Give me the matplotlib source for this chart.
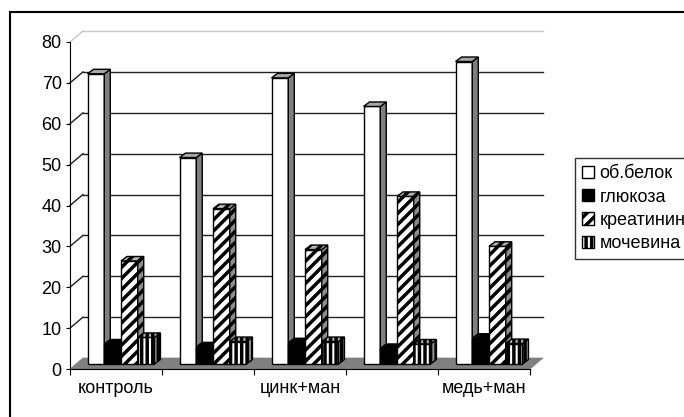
import numpy as np
import matplotlib
matplotlib.use('Agg')
import matplotlib.pyplot as plt
from matplotlib.patches import Polygon, Rectangle, Patch

plt.rcParams['font.family'] = ['Liberation Sans', 'DejaVu Sans']
plt.rcParams['hatch.linewidth'] = 2.5

groups = ['контроль', '', 'цинк+ман', '', 'медь+ман']
series = ['об.белок', 'глюкоза', 'креатинин', 'мочевина']
belok = [71, 50.5, 70, 63, 74]
glukoza = [4.9, 4.2, 5.2, 3.8, 6.3]
kreatinin = [25.2, 38, 28, 41, 28.8]
mochevina = [6.5, 5.5, 5.5, 4.9, 5]
yticks = [0, 10, 20, 30, 40, 50, 60, 70, 80]

values = [belok, glukoza, kreatinin, mochevina]
front = ['white', 'black', 'white', 'white']
side = ['#7f7f7f', 'black', '#8c8c8c', '#8c8c8c']
top = ['#a6a6a6', 'black', '#b0b0b0', '#b0b0b0']
hatches = [None, None, '///', '|||']

W, H = 684, 417
fig = plt.figure(figsize=(W / 100, H / 100), dpi=100)
# axes box in pixels: x 70..530, y 42..369
ax = fig.add_axes([70 / W, 1 - 369 / H, 460 / W, 327 / H])
ax.set_xlim(0, 5)
ax.set_ylim(0, 80)

px_x = 460 / 5
px_y = 327 / 80
wall_dx, wall_dy = 13 / px_x, 11 / px_y
bar_x0, bar_y0 = 5 / px_x, 5 / px_y
bar_dx, bar_dy = 6 / px_x, 4.5 / px_y
bw = 1 / 5.5

# back wall gridlines and left wall diagonals
for t in yticks[1:]:
    c = '#c8c8c8' if t == 80 else '#202020'
    ax.plot([wall_dx, 5 + wall_dx], [t + wall_dy, t + wall_dy], color=c, lw=1, clip_on=False, zorder=1)
    ax.plot([0, wall_dx], [t, t + wall_dy], color=c, lw=1, clip_on=False, zorder=1)

# floor
ax.add_patch(Polygon([(0, 0), (5, 0), (5 + wall_dx, wall_dy), (wall_dx, wall_dy)],
                     facecolor='#808080', edgecolor='#808080', lw=0.5, clip_on=False, zorder=2))

z = 3
for g in range(len(groups)):
    for s in range(len(series)):
        v = values[s][g]
        x0 = g + (1 - 4 * bw) / 2 + bar_x0 + s * bw
        b = bar_y0
        t = b + v
        ax.add_patch(Rectangle((x0, b), bw, v, facecolor=front[s], edgecolor='black',
                               hatch=hatches[s], lw=1, clip_on=False, zorder=z))
        ax.add_patch(Polygon([(x0 + bw, b), (x0 + bw + bar_dx, b + bar_dy),
                              (x0 + bw + bar_dx, t + bar_dy), (x0 + bw, t)],
                             facecolor=side[s], edgecolor='black', hatch=hatches[s],
                             lw=1, clip_on=False, zorder=z))
        ax.add_patch(Polygon([(x0, t), (x0 + bw, t), (x0 + bw + bar_dx, t + bar_dy),
                              (x0 + bar_dx, t + bar_dy)],
                             facecolor=top[s], edgecolor='black', hatch=hatches[s],
                             lw=1, clip_on=False, zorder=z))
        z += 1

for sp in ['top', 'right']:
    ax.spines[sp].set_visible(False)
ax.spines['left'].set_zorder(100)
ax.spines['bottom'].set_zorder(100)
ax.set_facecolor('none')

ax.set_yticks(yticks)
ax.tick_params(axis='y', direction='out', length=3, pad=3, labelsize=13)
ax.set_xticks(range(6))
ax.set_xticklabels([''] * 6)
ax.set_xticks(np.arange(5) + 0.5, minor=True)
ax.set_xticklabels(groups, minor=True)
ax.tick_params(axis='x', which='major', direction='out', length=4)
ax.tick_params(axis='x', which='minor', length=0, pad=8, labelsize=13)

handles = [Patch(facecolor=front[i], edgecolor='black', hatch=hatches[i], lw=1) for i in range(4)]
handles[1] = Patch(facecolor='black', edgecolor='black')
leg = fig.legend(handles, series, loc='upper left', bbox_to_anchor=(575 / W, 1 - 158 / H),
                 fontsize=13, frameon=True, fancybox=False, edgecolor='black',
                 handlelength=0.65, handleheight=0.65, handletextpad=0.3,
                 labelspacing=0.35, borderpad=0.4, borderaxespad=0)
leg.get_frame().set_linewidth(1)

# chart area border
fig.add_artist(Rectangle((10 / W, -0.1), 1.2, 1.1 - 12 / H, transform=fig.transFigure,
                         fill=False, edgecolor='black', lw=1.5))

fig.savefig('out.png', dpi=100)
